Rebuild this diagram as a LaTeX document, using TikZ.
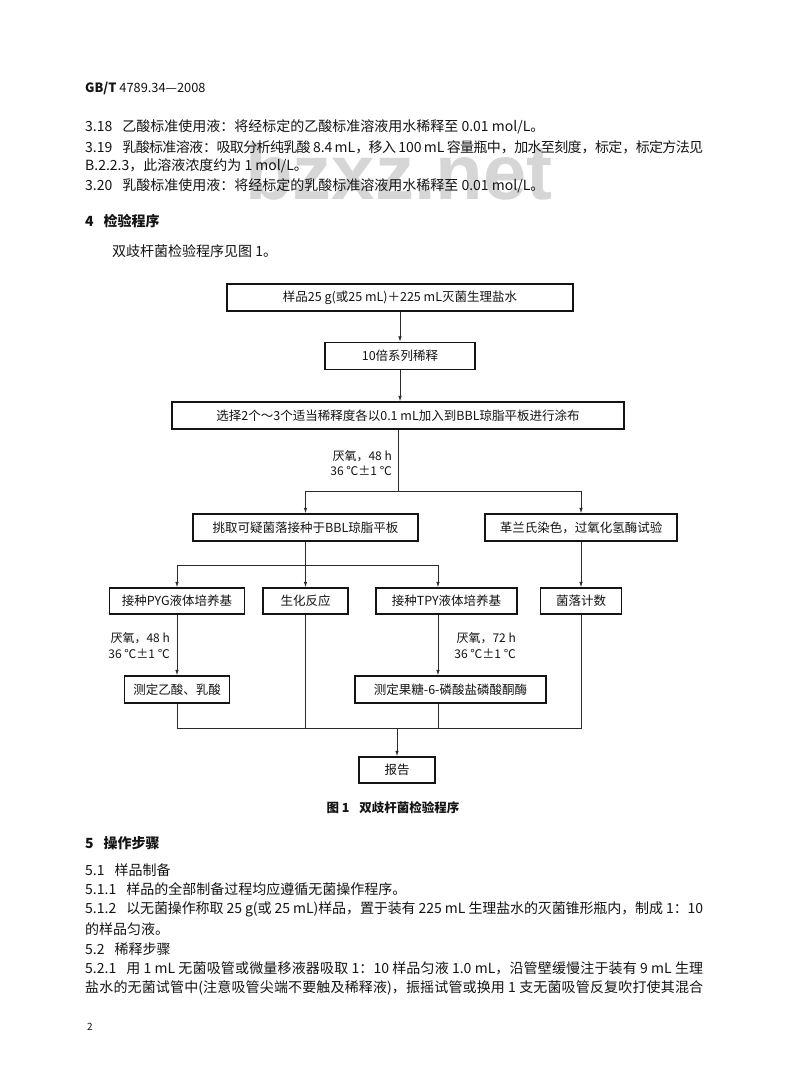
\documentclass[tikz,border=0pt]{standalone}
\usepackage{fontspec}
\setmainfont{Noto Sans CJK SC}
\newfontfamily\markfont{Liberation Sans}
\usetikzlibrary{arrows.meta,positioning}
\definecolor{ink}{HTML}{141414}
\definecolor{ink2}{HTML}{2A2A2A}
\definecolor{grey2}{HTML}{D6D6D6}
\XeTeXlinebreaklocale "zh"
\XeTeXlinebreakskip=0pt plus 2pt minus 0.8pt

\begin{document}
\begin{tikzpicture}[x=1pt, y=-1pt, font=\fontsize{12.5}{15}\selectfont, text=ink,
  txt/.style={anchor=west, inner sep=0pt, font=\fontsize{14}{16}\selectfont},
  full/.style={txt, text width=618pt, align=justify},
  box/.style={draw=ink, line width=1.4pt, minimum height=27pt, inner sep=0pt},
  cond/.style={anchor=east, inner sep=0pt, align=right, font=\fontsize{12}{15.5}\selectfont},
  link/.style={ink2, line width=0.8pt},
  arr/.style={link, -{Latex[length=5.5pt, width=3.5pt]}}]
  \useasboundingbox[fill=white] (0,0) rectangle (800,1090);
  \node[anchor=base west, inner sep=0pt, text=grey2, font=\markfont\bfseries\fontsize{78}{78}\selectfont] (mark) at (245,199) {bzxz.net};

  \node[txt, font=\fontsize{12.8}{15}\selectfont] (head) at (85,88) {\textbf{GB/T} 4789.34—2008};
  \node[txt] (c318) at (85,127) {3.18\hspace{10pt}乙酸标准使用液：将经标定的乙酸标准溶液用水稀释至 0.01 mol/L。};
  \node[full] (c319) at (85,147) {\parfillskip=0pt 3.19\hspace{10pt}乳酸标准溶液：吸取分析纯乳酸 8.4 mL，移入 100 mL 容量瓶中，加水至刻度，标定，标定方法见\par};
  \node[txt] (c319b) at (85,166) {B.2.2.3，此溶液浓度约为 1 mol/L。};
  \node[txt] (c320) at (85,186) {3.20\hspace{10pt}乳酸标准使用液：将经标定的乳酸标准溶液用水稀释至 0.01 mol/L。};
  \node[txt] (sec4) at (85,221) {\textbf{4\hspace{10pt}检验程序}};
  \node[txt] (intro) at (112,251) {双歧杆菌检验程序见图 1。};

  \node[box, minimum width=346pt] (sample) at (400,297.5) {样品25 g(或25 mL)＋225 mL灭菌生理盐水};
  \node[box, minimum width=150pt] (dilute) at (400,356) {10倍系列稀释};
  \node[box, minimum width=452pt] (spread) at (398,415.5) {选择2个～3个适当稀释度各以0.1 mL加入到BBL琼脂平板进行涂布};
  \draw[arr] (sample) -- (dilute);
  \draw[arr] (dilute) -- (dilute |- spread.north);

  \node[box, minimum width=225pt] (pick) at (305.5,527.5) {挑取可疑菌落接种于BBL琼脂平板};
  \node[box, minimum width=192pt] (gram) at (581,527.5) {革兰氏染色，过氧化氢酶试验};
  \coordinate (fork1) at (397,491);
  \draw[arr] (spread) -- (spread |- fork1) -| (pick);
  \draw[arr] (spread |- fork1) -| (gram);
  \node[cond] (anaer1) at (392,463) {厌氧，48 h\\36 ℃±1 ℃};

  \node[box, minimum width=135pt, minimum height=26pt] (pyg) at (177,601) {接种PYG液体培养基};
  \node[box, minimum width=85pt, minimum height=26pt] (bio) at (305.5,601) {生化反应};
  \node[box, minimum width=141pt, minimum height=26pt] (tpy) at (446.5,601) {接种TPY液体培养基};
  \node[box, minimum width=81pt, minimum height=26pt] (count) at (581,601) {菌落计数};
  \coordinate (fork2) at (305.5,565);
  \coordinate (laneR) at (438,565);
  \draw[arr] (pick) -- (bio);
  \draw[arr] (fork2) -| (pyg);
  \draw[arr] (fork2) -- (laneR) -- (laneR |- tpy.north);
  \draw[arr] (gram) -- (count);

  \node[box, minimum width=105pt] (acid) at (177,689.5) {测定乙酸、乳酸};
  \node[box, minimum width=191pt] (f6p) at (450.5,689.5) {测定果糖-6-磷酸盐磷酸酮酶};
  \draw[arr] (pyg) -- (acid);
  \draw[arr] (laneR |- tpy.south) -- (laneR |- f6p.north);
  \node[cond] (anaer2) at (170,645.5) {厌氧，48 h\\36 ℃±1 ℃};
  \node[cond] (anaer3) at (516,645.5) {厌氧，72 h\\36 ℃±1 ℃};

  \node[box, minimum width=76pt, minimum height=26pt] (report) at (397,770) {报告};
  \coordinate (merge) at (397,728);
  \draw[link] (acid) |- (count |- merge) -- (count);
  \draw[link] (bio) -- (bio |- merge);
  \draw[link] (laneR |- f6p.south) -- (laneR |- merge);
  \draw[arr] (merge) -- (report);

  \node[font=\fontsize{12.5}{15}\selectfont\bfseries, inner sep=0pt] (fig) at (393,808) {图 1\hspace{10pt}双歧杆菌检验程序};

  \node[txt] (sec5) at (85,843) {\textbf{5\hspace{10pt}操作步骤}};
  \node[txt] (c51) at (85,870) {5.1\hspace{10pt}样品制备};
  \node[txt] (c511) at (85,889) {5.1.1\hspace{10pt}样品的全部制备过程均应遵循无菌操作程序。};
  \node[full] (c512) at (85,909) {\parfillskip=0pt 5.1.2\hspace{10pt}以无菌操作称取 25 g(或 25 mL)样品，置于装有 225 mL 生理盐水的灭菌锥形瓶内，制成 1：10\par};
  \node[txt] (c512b) at (85,929) {的样品匀液。};
  \node[txt] (c52) at (85,949) {5.2\hspace{10pt}稀释步骤};
  \node[full] (c521) at (85,968) {\parfillskip=0pt 5.2.1\hspace{10pt}用 1 mL 无菌吸管或微量移液器吸取 1：10 样品匀液 1.0 mL，沿管壁缓慢注于装有 9 mL 生理\par};
  \node[full] (c521b) at (85,988) {\parfillskip=0pt 盐水的无菌试管中(注意吸管尖端不要触及稀释液)，振摇试管或换用 1 支无菌吸管反复吹打使其混合\par};
  \node[txt, font=\fontsize{10}{12}\selectfont] (pageno) at (87,1027) {2};
\end{tikzpicture}
\end{document}
